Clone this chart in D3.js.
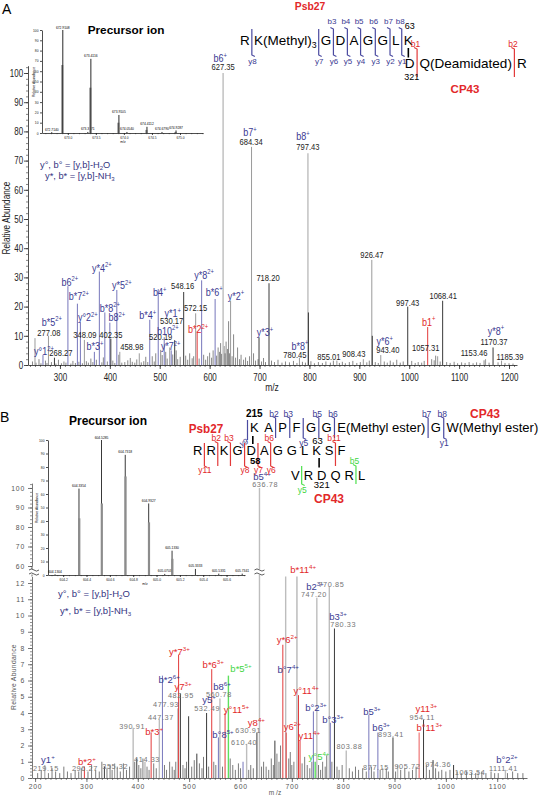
<!DOCTYPE html>
<html><head><meta charset="utf-8">
<script src="https://d3js.org/d3.v7.min.js"></script>
<style>body{margin:0;background:#fff}svg{display:block}</style>
</head><body><svg width="539" height="796"></svg>
<script>
// ================= DATA =================
// Panel A main spectrum (m/z, relative abundance %, colour kind)
const peaksA_mz  = [250,266,277,289,316,335,341,349,369,379,390,400,402,414,420,459,480,497,509,520,523,530,548,572,575,584,611,627,642,684,699,719,780,797,798,855,908,925,926,943,997,1037,1057,1067,1153,1168,1185];
const peaksA_int = [9.2,3.4,10,2.5,27,21,14.7,8.6,4.5,32,18,14.5,9,25.7,4.5,4,15.5,26,9.5,6,5,8.5,25,17.7,11.5,29,22.6,100,22,74.7,9.5,28,2.5,72.5,18,1.5,2,36,10,3.4,20,13,3,22,2,6,1.5];
const peaksA_kind = "g b g k b b b g b b b b k b g g b b b g b k k g r b b l g g k k g l k g g g k g k r g k g k g".split(" ");
const noiseA_mz  = [245,252,258,262,271,274,283,292,297,303,308,312,322,326,331,338,345,353,357,362,366,373,384,387,395,406,410,418,424,430,436,441,445,450,454,463,468,472,476,485,489,492,502,505,512,515,526,533,536,541,552,556,560,565,568,579,588,592,596,600,604,607,614,617,620,622,624,629,631,633,636,638,640,645,648,652,656,660,663,668,672,676,680,688,692,697,704,708,712,724,730,737,745,752,760,768,775,786,792,803,810,818,826,833,842,848,860,866,872,880,887,895,902,915,920,932,938,950,956,962,968,975,982,988,1005,1012,1018,1025,1030,1045,1050,1053,1062,1075,1082,1090,1097,1105,1112,1120,1128,1135,1142,1150,1160,1178,1192,1200,1208];
const noiseA_int = [1.2,0.8,2.0,0.6,1.5,0.7,1.0,0.5,1.8,0.6,1.2,0.8,0.5,1.4,0.7,1.1,0.6,1.3,0.8,2.2,1.0,1.8,0.9,2.6,1.2,1.5,0.7,3.5,0.8,1.0,1.6,2.4,1.1,0.8,1.9,0.9,1.3,2.8,1.0,3.0,1.2,4.0,5.2,3.4,4.5,2.2,3.6,5.0,2.0,2.8,3.2,1.8,4.0,2.3,3.0,2.2,3.5,1.8,3.0,4.2,2.5,5.0,3.2,6.0,4.5,7.5,3.8,6.5,4.0,8.0,5.5,15.0,4.0,3.0,10.5,2.5,6.0,2.0,3.5,1.8,2.6,1.4,3.0,4.0,1.5,2.0,1.2,2.4,1.0,1.5,1.0,1.8,0.8,1.2,0.9,1.4,0.7,1.1,0.8,1.3,0.6,1.0,0.7,1.2,0.8,1.5,0.7,1.1,0.6,1.0,1.4,0.7,1.0,0.9,1.5,1.0,0.7,1.2,0.8,1.5,0.9,1.8,0.8,1.2,1.4,0.7,1.0,0.8,1.4,2.0,1.6,3.2,1.2,1.0,0.7,1.1,0.6,0.9,0.7,1.0,0.6,0.9,0.7,1.6,0.8,0.9,0.7,0.6,0.5];
const ticksA_x = [300,400,500,600,700,800,900,1000,1100,1200];
const ticksA_y = [0,10,20,30,40,50,60,70,80,90,100];
// Panel A annotations: [text, colour, label m/z, label level %]
const annA = [
 ["b*5^2+^","b",284,14.7],["277.08","v",278,11.0],["y°1^2+^","b",268,4.5],["268.27","v",302,4.1],
 ["b6^2+^","b",320,28.4],["b*7^2+^","b",338,23.3],["y°2^2+^","b",356,16.1],["348.09","v",350,10.3],
 ["b*3^+^","b",370,6.2],["y*4^2+^","b",384,33.2],["b*8^2+^","b",400,19.5],["402.35","v",402,10.3],
 ["b8^2+^","b",414,16.1],["y*5^2+^","b",424,27.1],["458.98","v",444,6.2],["b*4^+^","b",476,16.8],
 ["b4^+^","b",500,24.7],["520.19","v",502,9.6],["b10^2+^","b",516,11.6],["y*1^+^","b",526,17.5],
 ["530.17","v",524,15.1],["y*7^2+^","b",522,6.2],["548.16","v",546,27.1],["572.15","v",572,19.5],
 ["b*2^2+^","r",577,12.0],["y*8^2+^","b",589,30.8],["b*6^+^","b",609,25.0],["y*2^+^","b",653,23.6],
 ["b6^+^","b",621,104.8],["627.35","v",627,102.1],["b7^+^","b",681,79.5],["684.34","v",683,76.4],
 ["718.20","v",717,29.8],["y*3^+^","b",711,11.0],["b*8^+^","b",781,6.5],["780.45","v",771,3.4],
 ["b8^+^","b",787,78.1],["797.43","v",797,74.7],["855.01","v",839,2.7],["908.43","v",889,3.8],
 ["926.47","v",925,37.7],["y*6^+^","b",951,7.9],["943.40","v",957,5.1],["997.43","v",997,21.2],
 ["b1^+^","r",1039,14.7],["1057.31","v",1033,5.8],["1068.41","v",1068,23.6],["1153.46","v",1130,4.1],
 ["y*8^+^","b",1174,11.6],["1170.37","v",1170,7.9],["1185.39","v",1202,2.7]];
// Panel A precursor inset
const insetA_mz   = [672.714,672.911,673.357,673.411,673.911,674.054,674.411,674.679,674.929];
const insetA_int  = [0.8,100,1,72,17.5,1,6,1,2.5];
const insetA_prof = [0,66,0,44,10,0,3,0,1];
const insetA_lab  = ["672.7140","672.9108","673.3571","673.4116","673.9105","674.0540","674.4112","674.6790","674.9287"];
const insetA_ticks = [673.0,673.5,674.0,674.5,675.0];
const insetA_yt = [0,10,20,30,40,50,60,70,80,90,100];

// Panel B main spectrum
const peaksB_mz  = [219,296,335,355,391,398,414,426,442,448,478,479.5,483,499,515,534,544,557,560,570,576.5,605,612,632,637,667,682.5,688,689,710,713,716,742,745.5,748.7,773,775,783,806,850,867.6,877,897,906,948,956.5,975,1015,1063,1116];
const peaksB_int = [0.8,0.7,0.7,0.9,3.1,1.2,1.0,2.8,3.6,6.3,4.3,7.6,5.2,3.8,1.5,4.0,6.7,2.5,4.9,4.0,6.3,1.0,2.1,2.8,100,2.3,8.2,13,2.8,13,5.1,2.3,4.1,1.0,11.1,11.75,3.4,9.2,1.7,3.9,2.8,0.6,2.5,0.8,2.8,3.6,1.1,0.8,0.4,0.5];
const peaksB_kind = "g r k g l k l r l b l r k k k k r b l r n b l k l k r l r g r r b n l l b k l b b l k l p k k k l l".split(" ");
const noiseB_mz  = [205,212,226,233,240,248,256,263,270,278,285,290,303,310,318,325,330,340,346,350,360,366,372,378,384,394,402,406,410,418,422,431,436,452,456,462,467,471,474,488,492,495,505,510,520,525,528,538,548,552,565,580,585,590,596,600,616,620,625,641,645,650,655,660,664,671,675,678,694,697,700,704,720,725,730,735,739,752,756,760,765,768,778,788,792,798,812,818,824,830,838,845,855,860,872,884,888,902,912,920,928,935,942,962,968,980,986,992,1000,1008,1022,1030,1040,1050,1058,1070,1078,1088,1095,1102,1120,1130,1140,1150];
const noiseB_int = [0.3,0.5,0.3,0.6,0.4,0.3,0.7,0.4,0.3,0.5,0.4,0.6,0.4,0.8,0.5,0.4,1.0,0.6,0.8,0.5,0.7,0.4,0.9,0.5,0.7,1.0,0.8,0.6,1.2,0.7,0.5,0.9,0.6,0.8,0.5,1.0,0.7,0.5,1.0,0.8,0.6,1.0,0.7,1.1,0.9,0.6,1.3,0.7,1.0,0.8,0.7,1.2,0.8,0.5,0.9,0.6,0.5,0.8,0.6,0.7,1.0,0.7,0.5,1.2,0.8,1.5,1.0,2.0,1.2,1.6,0.8,1.0,0.9,1.3,0.8,0.6,1.0,0.8,0.5,1.0,0.7,1.4,1.0,0.7,0.5,0.8,0.6,0.4,0.7,0.5,0.6,0.4,0.7,0.4,0.5,0.6,0.4,0.4,0.5,0.6,0.4,0.5,0.7,0.8,0.5,0.6,0.4,0.5,0.4,0.5,0.4,0.3,0.4,0.3,0.3,0.4,0.3,0.4,0.3,0.3,0.3,0.4,0.3,0.3];
const ticksB_x = [200,300,400,500,600,700,800,900,1000,1100];
const ticksB_low = [0,1,2,3,4,5,6,7,8,9,10,11,12];
const ticksB_up = [60,70,80,90,100];
// Panel B annotations: [text, colour, label m/z, label level %]
const annB = [
 ["y1^+^","b",225,1.11],["219.15","v",221,0.62],["b*2^+^","r",301,0.98],["296.27","v",297,0.62],
 ["355.32","v",356,0.74],["390.91","v",389,3.2],["414.33","v",418,1.17],["b*3^+^","r",432,2.83],
 ["447.37","v",445,3.75],["477.93","v",455,4.55],["b*2^6+^","b",461,6.03],["y*7^3+^","r",481,7.75],
 ["y7^3+^","r",488,5.6],["482.95","v",484,5.1],["y5^+^","b",539,4.8],["532.49","v",535,4.3],
 ["b*6^3+^","r",547,6.95],["b*5^5+^","n",601,6.7],["b8^6+^","b",564,5.6],["560.78","v",558,5.17],
 ["y°11^5+^","r",592,4.18],["b°8^5+^","b",566,2.65],["610.40","v",607,2.2],["y8^4+^","r",631,3.38],
 ["630.91","v",615,2.9],["b5^4+^","b",642,105.6],["636.78","v",648,102],["b*11^4+^","r",722,12.8],
 ["b2^3+^","b",745,11.75],["747.20","v",743,11.3],["770.85","v",777,11.94],["b3^3+^","b",790,9.9],
 ["780.33","v",800,9.48],["y*6^2+^","r",691,8.5],["b°7^4+^","b",693,6.65],["y°11^4+^","r",728,5.35],
 ["b°2^3+^","b",747,4.3],["b°3^3+^","b",780,3.57],["y6^2+^","r",701,3.14],["y11^4+^","r",734,2.58],
 ["y°5^4+^","n",753,1.29],["803.88","v",812,1.97],["b5^3+^","b",856,4.06],["b6^3+^","b",874,3.08],
 ["893.41","v",893,2.7],["877.15","v",864,0.68],["905.72","v",925,0.74],["y11^3+^","r",962,4.25],
 ["954.11","v",954,3.75],["b°11^3+^","r",968,3.08],["974.36","v",985,0.86],["1063.54","v",1047,0.37],
 ["b°2^2+^","b",1119,1.11],["1111.41","v",1112,0.62]];
// Panel B precursor inset
const insetB_mz   = [604.1304,604.3354,604.5285,604.7318,604.9327,605.0703,605.1330,605.3333,605.5331,605.7341];
const insetB_int  = [0.5,64,100,89,53,0.8,18,4.5,1.0,1.0];
const insetB_prof = [0,42,53,73,39,0,12,0,0,0];
const insetB_lab  = ["604.1304","604.3354","604.5285","604.7318","604.9327","605.0703","605.1330","605.3333","605.5331","605.7341"];
const insetB_ticks = [604.2,604.4,604.6,604.8,605.0,605.2,605.4,605.6];
const insetB_yt = [0,10,20,30,40,50,60,70,80,90,100];

// Sequences and fragment brackets [boundary index, b label, y label]
const seqA1 = ["R","K(Methyl)_3_","G","D","A","G","G","L","K"];
const fragA1 = [[0,null,"y8"],[1,null,"y7"],[2,"b3","y6"],[3,"b4","y5"],[4,"b5","y4"],[5,"b6","y3"],[6,"b7","y2"],[7,"b8","y1"]];
const seqA2 = ["D","Q(Deamidated)","R"];
const fragA2 = [[0,"b1",null],[1,"b2",null]];
const seqB1 = ["K","A","P","F","G","G","E(Methyl ester)","G","W(Methyl ester)"];
const fragB1 = [[1,"b2",null],[2,"b3",null],[3,null,"y5"],[4,"b5",null],[5,"b6",null],[6,"b7",null],[7,"b8","y1"]];
const seqB2 = ["R","R","K","G","D","A","G","G","L","K","S","F"];
const fragB2 = [[0,null,"y11"],[1,"b2",null],[2,"b3",null],[3,null,"y8"],[4,null,"y7"],[5,"b6","y6"],[10,"b11",null]];
const seqB3 = ["V","R","D","Q","R","L"];
const fragB3 = [[0,null,"y5"],[4,"b5",null]];

// ================= DRAWING =================
const F = '"Liberation Sans", Arial, Helvetica, sans-serif';
const svg = d3.select("svg");
svg.append("rect").attr("width",539).attr("height",796).attr("fill","#fff");
const lineCol = {g:"#9a9a9a",k:"#3a3a3a",l:"#bdbdbd",b:"#7676bb",r:"#e23a3a",n:"#5de05d",p:"#f08a8a"};
const textCol = {b:"#3a3a92",r:"#e2282a",n:"#3fd63f",v:"#222"};
const NAVY = "#34347f", RED = "#e2282a";

function rich(t,s,fs){
  const parts = s.split(/(\^[^\^]*\^|_[^_]*_)/).filter(p=>p.length);
  let cur = 0;
  parts.forEach(p=>{
    let txt=p,size=fs,off=0;
    if(p.length>1&&p[0]==="^"&&p.endsWith("^")){txt=p.slice(1,-1);size=fs*0.65;off=-fs*0.42;}
    else if(p.length>1&&p[0]==="_"&&p.endsWith("_")){txt=p.slice(1,-1);size=fs*0.65;off=fs*0.22;}
    t.append("tspan").attr("dy",(off-cur).toFixed(2)).attr("font-size",size).text(txt);
    cur=off;
  });
}
function T(g,x,y,s,o={}){
  const fs=o.fs||10;
  let tr=`translate(${x},${y})`;
  if(o.rot) tr+=` rotate(${o.rot})`;
  if(o.sx&&o.sx!==1) tr+=` scale(${o.sx},1)`;
  const t=g.append("text").attr("transform",tr).attr("font-size",fs).attr("font-family",F)
    .attr("fill",o.fill||"#000").attr("text-anchor",o.anchor||"middle").attr("font-weight",o.weight||"normal");
  if(o.ls) t.attr("letter-spacing",o.ls);
  rich(t,s,fs);
  return t;
}
function styleAxis(sel,fs,col,sx,ls){
  sel.selectAll("path,line").attr("stroke",col).attr("stroke-width",0.8);
  sel.selectAll("text").attr("font-size",fs).attr("font-family",F).attr("fill",col);
  if(sx) sel.selectAll("text").attr("transform",`scale(${sx},1)`);
  if(ls) sel.selectAll("text").attr("letter-spacing",ls);
}
function minorAxis(g,axis,vals,size,transform,col){
  const a=g.append("g").attr("transform",transform).call(axis.tickValues(vals).tickSize(size).tickFormat(""));
  a.select(".domain").remove();
  a.selectAll("line").attr("stroke",col).attr("stroke-width",0.6);
}
function seq(g,res,x0,base,fs,gap){
  let x=x0; const out=[];
  res.forEach(r=>{
    const t=T(g,x,base,r,{fs,anchor:"start"});
    const w=t.node().getComputedTextLength();
    out.push({x0:x,x1:x+w,cx:x+w/2});
    x+=w+gap;
  });
  return out;
}
function frags(g,pos,fr,col,tcol,yt,yb,bBase,yBase,lfs){
  fr.forEach(([i,b,y])=>{
    const x=(pos[i].x1+pos[i+1].x0)/2;
    let d=(b?`M${x-3},${yt-1.5}L${x},${yt}`:`M${x},${yt}`)+`L${x},${yb}`+(y?`L${x+3},${yb+1.5}`:"");
    g.append("path").attr("d",d).attr("fill","none").attr("stroke",col).attr("stroke-width",1.2);
    if(b) T(g,x-1.5,bBase,b,{fs:lfs,fill:tcol});
    if(y) T(g,x+0.5,yBase,y,{fs:lfs,fill:tcol});
  });
}
function vline(g,x,y1,y2,col,w){
  g.append("line").attr("x1",x).attr("x2",x).attr("y1",y1).attr("y2",y2).attr("stroke",col).attr("stroke-width",w||1);
}

// ---------------- PANEL A ----------------
const gA = svg.append("g");
const xA = d3.scaleLinear().domain([236,1216]).range([28,517]);
const yA = d3.scaleLinear().domain([0,102.5]).range([365,65.7]);
T(gA,2,14,"A",{fs:14,anchor:"start"});

minorAxis(gA,d3.axisBottom(xA),d3.range(240,1216,10),2,"translate(0,365)","#333");
minorAxis(gA,d3.axisLeft(yA),d3.range(0,102.5,2),2,"translate(28,0)","#333");
const axAx=gA.append("g").attr("transform","translate(0,365)")
  .call(d3.axisBottom(xA).tickValues(ticksA_x).tickSize(4).tickSizeOuter(0).tickPadding(5).tickFormat(d3.format("d")));
styleAxis(axAx,10,"#222",0.8);
const axAy=gA.append("g").attr("transform","translate(28,0)")
  .call(d3.axisLeft(yA).tickValues(ticksA_y).tickSize(4).tickSizeOuter(0).tickPadding(2).tickFormat(d3.format("d")));
styleAxis(axAy,10,"#222",0.8);
T(gA,9.5,218,"Relative Abundance",{fs:10,rot:-90,sx:0.82,fill:"#222"});
T(gA,272,391,"m/z",{fs:10,sx:0.85,fill:"#222"});

noiseA_mz.forEach((m,i)=>vline(gA,xA(m),365,yA(noiseA_int[i]),"#555",0.7));
peaksA_mz.forEach((m,i)=>{
  const k=peaksA_kind[i];
  vline(gA,xA(m),365,yA(peaksA_int[i]),lineCol[k],k==="l"?1.4:1);
});
annA.forEach(([s,c,m,v])=>{
  if(c==="v") T(gA,xA(m),yA(v)+3.3,s,{fs:9.5,sx:0.8,fill:textCol.v});
  else T(gA,xA(m),yA(v)+3.5,s,{fs:10,sx:0.9,fill:textCol[c]});
});

// inset A
const giA = gA.append("g");
const xiA = d3.scaleLinear().domain([672.54,675.41]).range([42,203]);
const yiA = d3.scaleLinear().domain([0,100]).range([133,30]);
minorAxis(giA,d3.axisBottom(xiA),d3.range(672.6,675.41,0.1),1.2,"translate(0,133)","#333");
const iax=giA.append("g").attr("transform","translate(0,133)")
  .call(d3.axisBottom(xiA).tickValues(insetA_ticks).tickSize(2).tickSizeOuter(0).tickPadding(1.5).tickFormat(d3.format(".1f")));
styleAxis(iax,3.3,"#222");
const iay=giA.append("g").attr("transform","translate(42,0)")
  .call(d3.axisLeft(yiA).tickValues(insetA_yt).tickSize(2).tickSizeOuter(0).tickPadding(1.5).tickFormat(d3.format("d")));
styleAxis(iay,3.3,"#222");
T(giA,35,82,"Relative Abundance",{fs:3.4,rot:-90});
T(giA,123,143,"m/z",{fs:3.4});
insetA_mz.forEach((m,i)=>{
  if(insetA_prof[i]>0) vline(giA,xiA(m)-0.6,133,yiA(insetA_prof[i]),"#9c9c9c",2.2);
  vline(giA,xiA(m),133,yiA(insetA_int[i]),"#111",0.9);
  T(giA,xiA(m),yiA(insetA_int[i])-1.5,insetA_lab[i],{fs:3.3});
});
T(gA,126,34,"Precursor ion",{fs:11.8,weight:"bold"});
T(gA,40,168,"y°, b° = [y,b]-H_2_O",{fs:9.3,anchor:"start",fill:NAVY});
T(gA,45,179,"y*, b* = [y,b]-NH_3_",{fs:9.3,anchor:"start",fill:NAVY});

// sequence A
const sA = svg.append("g");
T(sA,310,10,"Psb27",{fs:11.5,weight:"bold",fill:RED,sx:0.9});
const pA1 = seq(sA,seqA1,240,45,13.5,4.2);
frags(sA,pA1,fragA1,"#4a4aa0","#3a3a92",29,55,24,63.5,8);
const kA = pA1[8];
vline(sA,kA.cx,48,57.5,"#000",1.6);
T(sA,kA.cx+1.5,29,"63",{fs:9});
const pA2 = seq(sA,seqA2,kA.cx-3.5,68,13.5,5);
frags(sA,pA2,fragA2,"#e23a3a",RED,49,77,47,0,8.5);
T(sA,pA2[0].cx+2,80,"321",{fs:9});
T(sA,465,93,"CP43",{fs:11.5,weight:"bold",fill:RED});

// ---------------- PANEL B ----------------
const gB = svg.append("g");
const xB = d3.scaleLinear().domain([194,1158]).range([32,527]);
const yBlow = d3.scaleLinear().domain([0,12.4]).range([778,576.5]);
const yBup = d3.scaleLinear().domain([60,102.5]).range([566,483.1]);
const yBv = v => v<=12.4 ? yBlow(v) : (v<60 ? yBlow(12.4) : yBup(v));
const yBlab = v => v<=20 ? yBlow(v) : yBup(v);
T(gB,0,422,"B",{fs:14,anchor:"start"});

minorAxis(gB,d3.axisBottom(xB),d3.range(200,1158,10),2,"translate(0,778)","#444");
minorAxis(gB,d3.axisLeft(yBlow),d3.range(0,12.4,0.2),2,"translate(32,0)","#444");
minorAxis(gB,d3.axisLeft(yBup),d3.range(60,102.5,2),2,"translate(32,0)","#444");
const bx=gB.append("g").attr("transform","translate(0,778)")
  .call(d3.axisBottom(xB).tickValues(ticksB_x).tickSize(4).tickSizeOuter(0).tickPadding(2).tickFormat(d3.format("d")));
styleAxis(bx,6.8,"#555",null,0.8);
bx.select(".domain").attr("stroke","#444");
const byl=gB.append("g").attr("transform","translate(32,0)")
  .call(d3.axisLeft(yBlow).tickValues(ticksB_low).tickSize(4).tickSizeOuter(0).tickPadding(3).tickFormat(d3.format("d")));
styleAxis(byl,6.8,"#555",null,0.8);
const byu=gB.append("g").attr("transform","translate(32,0)")
  .call(d3.axisLeft(yBup).tickValues(ticksB_up).tickSize(4).tickSizeOuter(0).tickPadding(3).tickFormat(d3.format("d")));
styleAxis(byu,6.8,"#555",null,0.8);
vline(gB,32,576.5,566,"#444",0.8);
T(gB,15.5,677,"Relative Abundance",{fs:6.8,rot:-90,fill:"#555",ls:0.3});
T(gB,275,794.5,"m /z",{fs:6.5,fill:"#555"});

noiseB_mz.forEach((m,i)=>vline(gB,xB(m),778,yBlow(noiseB_int[i]),"#444",0.7));
peaksB_mz.forEach((m,i)=>{
  const k=peaksB_kind[i];
  vline(gB,xB(m),778,yBv(peaksB_int[i]),lineCol[k],(k==="l"||k==="p"||k==="n")?1.4:1);
});
function breakMark(g,x,y){
  g.append("rect").attr("x",x-5).attr("y",y-2.5).attr("width",10).attr("height",5).attr("fill","#fff");
  [y-2,y+2].forEach(yy=>g.append("path").attr("d",`M${x-5},${yy} q2.5,-2.2 5,0 t5,0`).attr("fill","none").attr("stroke","#333").attr("stroke-width",0.8));
}
breakMark(gB,34,572);
breakMark(gB,xB(637),572);
annB.forEach(([s,c,m,v])=>{
  if(c==="v") T(gB,xB(m),yBlab(v)+2.6,s,{fs:7.3,fill:"#767676",ls:0.6});
  else T(gB,xB(m),yBlab(v)+3.3,s,{fs:9.5,fill:textCol[c]});
});

// inset B
const giB = gB.append("g");
const xiB = d3.scaleLinear().domain([604.07,605.758]).range([48,245]);
const yiB = d3.scaleLinear().domain([0,100]).range([575,440]);
minorAxis(giB,d3.axisBottom(xiB),d3.range(604.1,605.76,0.05),1.2,"translate(0,575)","#333");
const ibx=giB.append("g").attr("transform","translate(0,575)")
  .call(d3.axisBottom(xiB).tickValues(insetB_ticks).tickSize(2).tickSizeOuter(0).tickPadding(1.5).tickFormat(d3.format(".1f")));
styleAxis(ibx,3.3,"#222");
const iby=giB.append("g").attr("transform","translate(48,0)")
  .call(d3.axisLeft(yiB).tickValues(insetB_yt).tickSize(2).tickSizeOuter(0).tickPadding(1.5).tickFormat(d3.format("d")));
styleAxis(iby,3.3,"#222");
T(giB,38,508,"Relative Abundance",{fs:3.4,rot:-90});
T(giB,145,585,"m/z",{fs:3.4});
insetB_mz.forEach((m,i)=>{
  vline(giB,xiB(m),575,yiB(insetB_int[i]),"#222",0.9);
  if(insetB_prof[i]>0) vline(giB,xiB(m)+0.3,575,yiB(insetB_prof[i]),"#8c8c8c",2.2);
  T(giB,xiB(m),yiB(insetB_int[i])-1.5,insetB_lab[i],{fs:3.3});
});
T(gB,108,425,"Precursor ion",{fs:12,weight:"bold"});
T(gB,58,597,"y°, b° = [y,b]-H_2_O",{fs:9.5,anchor:"start",fill:NAVY});
T(gB,60,614,"y*, b* = [y,b]-NH_3_",{fs:9.5,anchor:"start",fill:NAVY});

// sequence B
const sB = svg.append("g");
const pB1 = seq(sB,seqB1,250,432,13,5.5);
frags(sB,pB1,fragB1,"#4a4aa0","#3a3a92",418,438,417,446,8.5);
vline(sB,pB1[0].x0-2.5,420,440,"#4a4aa0",1.2);
T(sB,pB1[0].x0-5,445,"y9",{fs:8,fill:"#3a3a92",rot:-25});
T(sB,pB1[0].cx,417,"215",{fs:10,weight:"bold"});
const pB2 = seq(sB,seqB2,193,455,13,4);
frags(sB,pB2,fragB2,"#e23a3a",RED,443,466,441,473,8.5);
const pB3 = seq(sB,seqB3,291,480,13,4);
frags(sB,pB3,fragB3,"#4ee04e","#3fd63f",466,484,464,493,8.5);
vline(sB,(pB1[0].cx+pB2[4].cx)/2,436,444,"#000",1.6);
vline(sB,(pB2[9].cx+pB3[2].cx)/2,458,467.5,"#000",1.6);
T(sB,pB2[4].cx+4,464,"58",{fs:9.5,weight:"bold"});
T(sB,pB2[9].cx+1,444,"63",{fs:9.5});
T(sB,pB3[2].cx,488,"321",{fs:9.5});
T(sB,206,433,"Psb27",{fs:13,weight:"bold",fill:RED,sx:0.9});
T(sB,485,418,"CP43",{fs:12,weight:"bold",fill:RED});
T(sB,329,503,"CP43",{fs:12,weight:"bold",fill:RED});
</script></body></html>
